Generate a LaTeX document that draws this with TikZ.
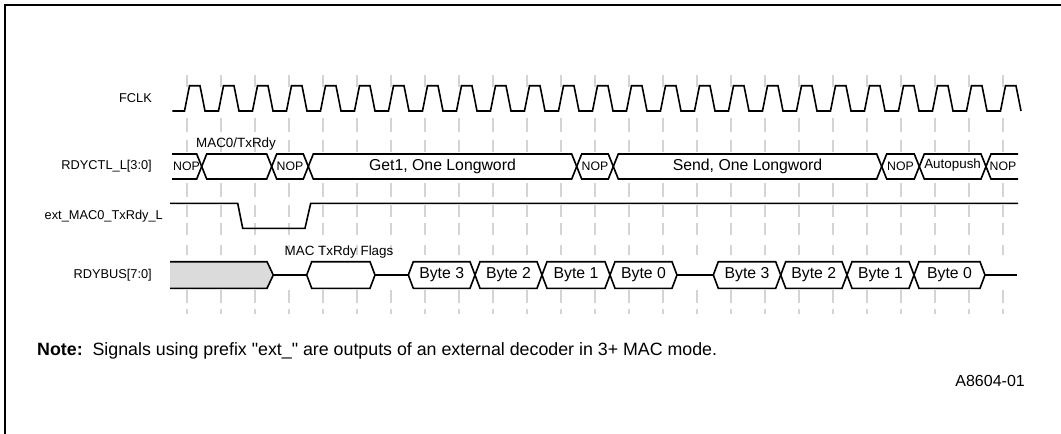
\documentclass[tikz,border=0pt]{standalone}
\usepackage{fontspec}
\setmainfont{Liberation Sans}[Ligatures=TeXOff]
\newcommand\lblfont{\fontsize{12.8}{14}\selectfont}
\newcommand\busfont{\fontsize{15.8}{18}\selectfont}
\newcommand\nopfont{\fontsize{12.3}{14}\selectfont}
\newcommand\autofont{\fontsize{13.4}{14}\selectfont}
\newcommand\annfont{\fontsize{13.4}{16}\selectfont}
\newcommand\notefont{\fontsize{17.8}{20}\selectfont}
\newcommand\figfont{\fontsize{16}{18}\selectfont}
\begin{document}
\begin{tikzpicture}[x=1pt,y=-1pt,
  sig/.style={line width=1.6pt, line join=miter, black},
  gridline/.style={draw=black!17, line width=1.4pt},
  lbl/.style={font=\lblfont, inner sep=0pt, anchor=east},
  bustxt/.style={font=\busfont, inner sep=0pt},
  noptxt/.style={font=\nopfont, inner sep=0pt},
  anntxt/.style={font=\annfont, inner sep=0pt}]
\useasboundingbox (0,0) rectangle (1061,434);
% frame
\draw[line width=2pt] (5,434) -- (5,5) -- (1061,5);
% grid
\foreach \k in {0,...,24}{
  \foreach \a/\b in {75/87,118/132,140/152,183/197,205/217,223/235,245/255,290/303,309/314}{
    \draw[gridline] ({187+34*\k},\a) -- ({187+34*\k},\b);
  }
}
% labels
\node[lbl] (lfclk) at (152,98) {FCLK};
\node[lbl] (lctl) at (152,166.5) {RDYCTL\_L[3:0]};
\node[lbl] (lext) at (163,216) {ext\_MAC0\_TxRdy\_L};
\node[lbl] (lbus) at (152,275.5) {RDYBUS[7:0]};
% FCLK
\draw[sig] (172.3,111) \foreach \k in {0,...,24}{
  -- ({184.5+34*\k},111) -- ({189.5+34*\k},85.7) -- ({200+34*\k},85.7) -- ({205+34*\k},111) };
% RDYCTL
\draw[sig] (172,154) -- (196.7,154) -- (206.7,179) -- (266.7,179) -- (276.7,154) -- (303.3,154) -- (313.3,179) -- (571.7,179) -- (581.7,154) -- (608.3,154) -- (618.3,179) -- (876.7,179) -- (886.7,154) -- (914.3,154) -- (924.3,179) -- (981,179) -- (991,154) -- (1018,154);
\draw[sig] (172,179) -- (196.7,179) -- (206.7,154) -- (266.7,154) -- (276.7,179) -- (303.3,179) -- (313.3,154) -- (571.7,154) -- (581.7,179) -- (608.3,179) -- (618.3,154) -- (876.7,154) -- (886.7,179) -- (914.3,179) -- (924.3,154) -- (981,154) -- (991,179) -- (1018,179);
\node[noptxt] (nop1) at (186.5,166.5) {NOP};
\node[anntxt] (macrdy) at (236,144) {MAC0/TxRdy};
\node[noptxt] (nop2) at (290,166.5) {NOP};
\node[bustxt] (get1) at (442.5,166.5) {Get1, One Longword};
\node[noptxt] (nop3) at (595,166.5) {NOP};
\node[bustxt] (send) at (747.5,166.5) {Send, One Longword};
\node[noptxt] (nop4) at (900.5,166.5) {NOP};
\node[font=\autofont, inner sep=0pt] (autop) at (952.6,165.5) {Autopush};
\node[noptxt] (nop5) at (1003,166.5) {NOP};
% ext_MAC0_TxRdy_L
\draw[sig] (170,203.3) -- (237.7,203.3) -- (242.7,228.3) -- (305,228.3) -- (310.7,203.3) -- (1018,203.3);
% RDYBUS
\fill[black!14] (170,261.7) -- (267,261.7) -- (273.3,275) -- (267,288.3) -- (170,288.3) -- cycle;
\draw[sig] (170,261.7) -- (267,261.7) -- (273.3,275) -- (267,288.3) -- (170,288.3);
\draw[sig] (273.3,275) -- (306.7,275);
\draw[sig] (306.7,275) -- (311.7,261.7) -- (370,261.7) -- (375,275) -- (370,288.3) -- (311.7,288.3) -- cycle;
\node[anntxt] (flags) at (339,252) {MAC TxRdy Flags};
\draw[sig] (375,275) -- (408.3,275);
\draw[sig] (408.3,275) -- (413.3,261.7) -- (470,261.7) -- (480,288.3) -- (537,288.3) -- (547,261.7) -- (605,261.7) -- (615,288.3) -- (672,288.3) -- (677,275);
\draw[sig] (408.3,275) -- (413.3,288.3) -- (470,288.3) -- (480,261.7) -- (537,261.7) -- (547,288.3) -- (605,288.3) -- (615,261.7) -- (672,261.7) -- (677,275);
\draw[sig] (677,275) -- (713.3,275);
\draw[sig] (713.3,275) -- (718.3,261.7) -- (775.7,261.7) -- (785.7,288.3) -- (842,288.3) -- (852,261.7) -- (909,261.7) -- (919,288.3) -- (980,288.3) -- (985,275);
\draw[sig] (713.3,275) -- (718.3,288.3) -- (775.7,288.3) -- (785.7,261.7) -- (842,261.7) -- (852,288.3) -- (909,288.3) -- (919,261.7) -- (980,261.7) -- (985,275);
\draw[sig] (985,275) -- (1017,275);
\node[bustxt] (b3a) at (441.7,275) {Byte 3};
\node[bustxt] (b2a) at (508.5,275) {Byte 2};
\node[bustxt] (b1a) at (576,275) {Byte 1};
\node[bustxt] (b0a) at (643.5,275) {Byte 0};
\node[bustxt] (b3b) at (747,275) {Byte 3};
\node[bustxt] (b2b) at (813.8,275) {Byte 2};
\node[bustxt] (b1b) at (880.5,275) {Byte 1};
\node[bustxt] (b0b) at (949.5,275) {Byte 0};
% note
\node[font=\notefont, inner sep=0pt, anchor=west] (note) at (37,351) {\textbf{Note:}\ \ Signals using prefix "ext\_" are outputs of an external decoder in 3+ MAC mode.};
\node[font=\figfont, inner sep=0pt, anchor=east] (fig) at (1025,381) {A8604-01};
\end{tikzpicture}
\end{document}
